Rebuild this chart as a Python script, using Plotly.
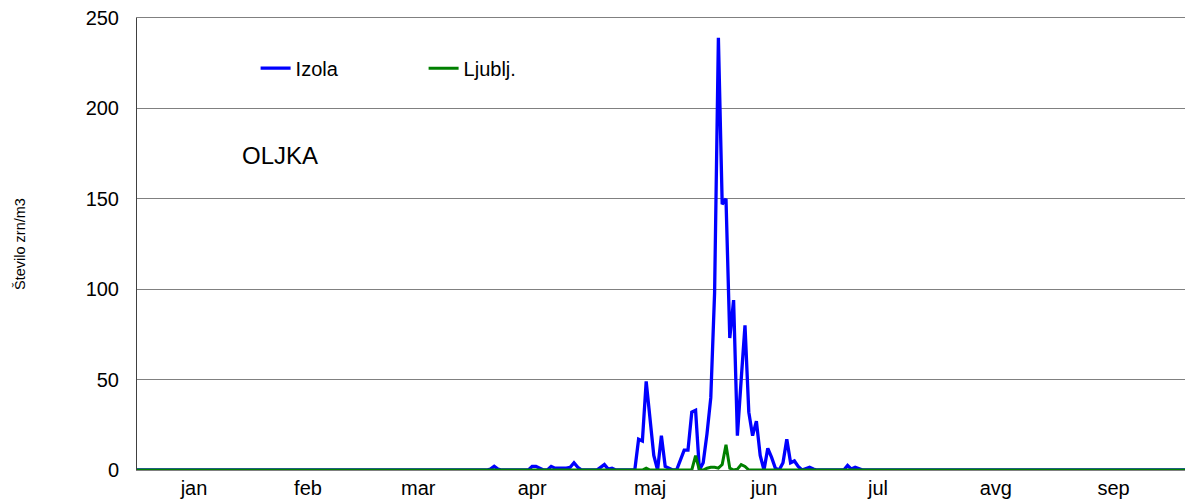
import pandas as pd
import plotly.graph_objects as go

# ---- data (daily pollen counts, grains/m3) ----
year_start = "2023-01-01"
n_days = 279                 # Jan 1 .. early October
season_first_day = 90        # index of first value in the season lists (Apr 1)

# Izola, daily values from day 90 (Apr 1) to day 191
izola_season = [
    0, 0, 0, 0.5, 2, 0.5, 0, 0, 0, 0,          # 90-99
    0, 0, 0, 0, 2, 2, 1, 0, 0, 2,              # 100-109
    1, 1, 1, 1, 1.5, 4, 1.5, 0, 0, 0,          # 110-119
    0, 0, 1.5, 3, 0.5, 1, 0, 0, 0, 0,          # 120-129
    0, 0, 17, 16, 49, 28, 8, 0, 19, 2,         # 130-139
    1, 0, 0, 6, 11, 11, 32, 33, 0, 4,          # 140-149
    20, 40, 98, 239, 147, 150, 73, 94, 19, 50, # 150-159
    80, 32, 19, 27, 8, 0, 12, 7, 1, 0,         # 160-169
    4, 17, 4, 5, 2, 0, 1, 1.5, 0.5, 0,         # 170-179
    0, 0, 0, 0, 0, 0, 0, 2.5, 0.5, 1.5,        # 180-189
    0.5, 0,                                    # 190-191
]

# Ljubljana, daily values from day 90 (Apr 1) to day 161
ljublj_season = [
    0, 0, 0, 0, 0, 0, 0, 0, 0, 0,              # 90-99
    0, 0, 0, 0, 0, 0, 0, 0, 0, 0,              # 100-109
    0, 0, 0, 0, 0, 0, 0, 0, 0, 0,              # 110-119
    0, 0, 0, 0, 0, 0, 0, 0, 0, 0,              # 120-129
    0, 0, 0, 0, 1, 0, 0, 0, 0, 0,              # 130-139
    0, 0, 0, 0, 0, 0, 0, 8, 0, 0,              # 140-149
    1, 1.5, 1.5, 1, 3, 14, 1, 0, 0.5, 3,       # 150-159
    2, 0,                                      # 160-161
]

series_names = ["Izola", "Ljublj."]
series_colors = ["#0000FF", "#008000"]

month_labels = ["jan", "feb", "mar", "apr", "maj", "jun", "jul", "avg", "sep"]
month_label_dates = ["2023-01-16", "2023-02-15", "2023-03-16", "2023-04-15",
                     "2023-05-16", "2023-06-15", "2023-07-15", "2023-08-15",
                     "2023-09-15"]
y_ticks = [0, 50, 100, 150, 200, 250]

# ---- build full daily series ----
dates = pd.date_range(year_start, periods=n_days, freq="D")


def full_series(season):
    vals = [0.0] * n_days
    for i, v in enumerate(season):
        vals[season_first_day + i] = v
    return vals


izola = full_series(izola_season)
ljublj = full_series(ljublj_season)

fig = go.Figure()
fig.add_trace(go.Scatter(x=dates, y=izola, mode="lines", name=series_names[0],
                         line=dict(color=series_colors[0], width=3.3)))
fig.add_trace(go.Scatter(x=dates, y=ljublj, mode="lines", name=series_names[1],
                         line=dict(color=series_colors[1], width=3)))

x_end = pd.Timestamp(year_start) + pd.Timedelta(days=277.9)

# page body has an 8px margin, so the figure is 8px smaller and margins shifted
fig.update_layout(
    width=1185, height=491,
    margin=dict(l=129, r=0, t=10, b=29, autoexpand=False),
    paper_bgcolor="white", plot_bgcolor="white",
    font=dict(family="Liberation Sans, Arial, sans-serif", size=20, color="black"),
    showlegend=True,
    legend=dict(orientation="h", x=(257 - 1.4 - 137) / 1056, y=0.889,
                xanchor="left", yanchor="middle",
                bgcolor="rgba(0,0,0,0)", font=dict(size=20),
                entrywidth=123, entrywidthmode="pixels",
                itemwidth=30, tracegroupgap=0),
    xaxis=dict(
        type="date",
        range=[pd.Timestamp(year_start), x_end],
        tickmode="array", tickvals=month_label_dates, ticktext=month_labels,
        showgrid=False, zeroline=False, ticks="",
        showline=True, mirror=True, linecolor="#808080", linewidth=1,
        tickfont=dict(size=20), ticklabeloverflow="allow",
    ),
    yaxis=dict(
        range=[0, 250], tickvals=y_ticks,
        showgrid=True, gridcolor="#808080", gridwidth=1,
        zeroline=False, ticks="",
        showline=True, linecolor="#404040", linewidth=1,
        tickfont=dict(size=20), ticklabelstandoff=13,
        ticklabeloverflow="allow",
        title=dict(text="Število zrn/m3", font=dict(size=14.5), standoff=56),
    ),
    annotations=[dict(text="OLJKA", xref="paper", yref="paper",
                      x=(240 - 137) / 1056, y=(470 - 155) / 452,
                      xanchor="left", yanchor="middle", showarrow=False,
                      font=dict(size=24, color="black"))],
)

fig.write_html("out.html")
